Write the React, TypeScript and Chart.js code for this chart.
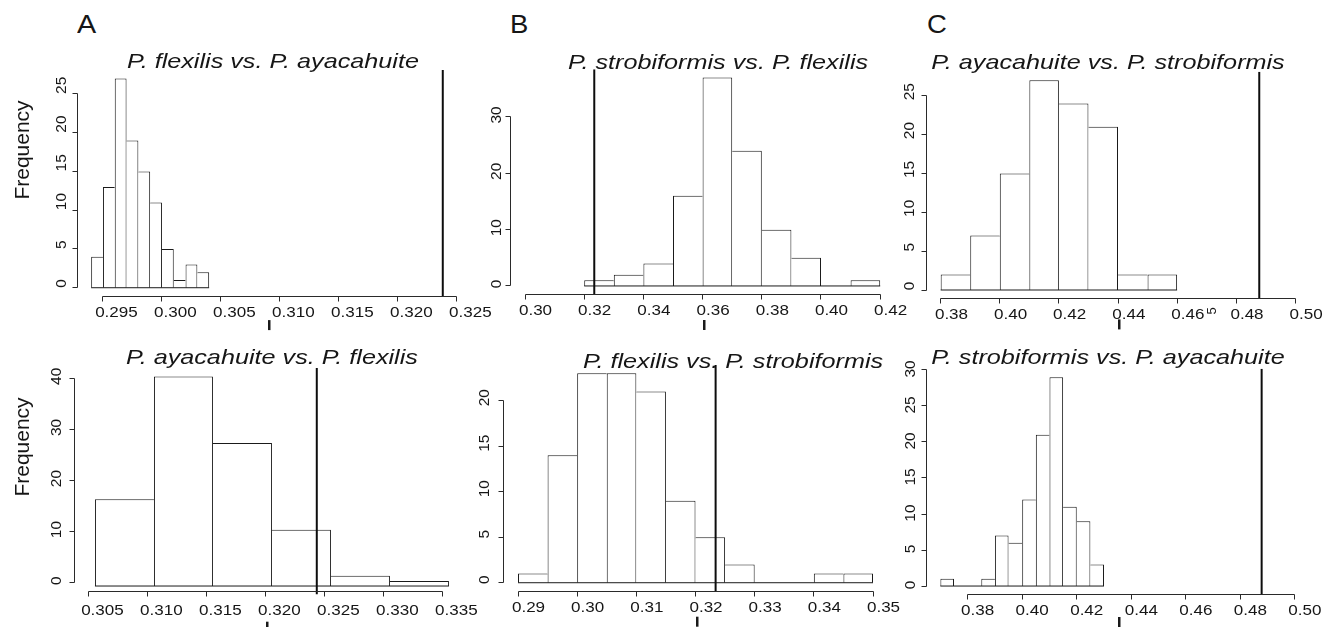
import React, { useEffect, useRef } from "react";
import { Chart, registerables } from "chart.js";

Chart.register(...registerables);

// ---------------- data ----------------
// bin edges and counts of the six permutation histograms
const aTopEdges = [0.294, 0.295, 0.296, 0.297, 0.298, 0.299, 0.3, 0.301, 0.302, 0.303, 0.304];
const aTopCounts = [4, 13, 27, 19, 15, 11, 5, 1, 3, 2];
const aBotEdges = [0.305, 0.31, 0.315, 0.32, 0.325, 0.33, 0.335];
const aBotCounts = [17, 41, 28, 11, 2, 1];
const bTopEdges = [0.32, 0.33, 0.34, 0.35, 0.36, 0.37, 0.38, 0.39, 0.4, 0.41, 0.42];
const bTopCounts = [1, 2, 4, 16, 37, 24, 10, 5, 0, 1];
const bBotEdges = [0.29, 0.295, 0.3, 0.305, 0.31, 0.315, 0.32, 0.325, 0.33, 0.335, 0.34, 0.345, 0.35];
const bBotCounts = [1, 14, 23, 23, 21, 9, 5, 2, 0, 0, 1, 1];
const cTopEdges = [0.38, 0.39, 0.4, 0.41, 0.42, 0.43, 0.44, 0.45, 0.46];
const cTopCounts = [2, 7, 15, 27, 24, 21, 2, 2];
const cBotEdges = [0.37, 0.375, 0.38, 0.385, 0.39, 0.395, 0.4, 0.405, 0.41, 0.415, 0.42, 0.425, 0.43];
const cBotCounts = [1, 0, 0, 1, 7, 6, 12, 21, 29, 11, 9, 3];

// observed values (vertical lines)
const observedA = 0.3238;
const observedB = 0.3234;
const observedC = 0.4878;

// x limits of each plot
const xlimATop = [0.294, 0.324];
const xlimABot = [0.305, 0.335];
const xlimBTop = [0.3, 0.42];
const xlimBBot = [0.29, 0.35];
const xlimCTop = [0.38, 0.5];
const xlimCBot = [0.37, 0.5];

// tick values
const xTicksATop = [0.295, 0.3, 0.305, 0.31, 0.315, 0.32, 0.325];
const xTicksABot = [0.305, 0.31, 0.315, 0.32, 0.325, 0.33, 0.335];
const xTicksBTop = [0.3, 0.32, 0.34, 0.36, 0.38, 0.4, 0.42];
const xTicksBBot = [0.29, 0.3, 0.31, 0.32, 0.33, 0.34, 0.35];
const xTicksCTop = [0.38, 0.4, 0.42, 0.44, 0.46, 0.48, 0.5];
const xTicksCBot = [0.38, 0.4, 0.42, 0.44, 0.46, 0.48, 0.5];
const yTicksATop = [0, 5, 10, 15, 20, 25];
const yTicksABot = [0, 10, 20, 30, 40];
const yTicksBTop = [0, 10, 20, 30];
const yTicksBBot = [0, 5, 10, 15, 20];
const yTicksCTop = [0, 5, 10, 15, 20, 25];
const yTicksCBot = [0, 5, 10, 15, 20, 25, 30];

// titles
const titleATop = "P. flexilis vs. P. ayacahuite";
const titleABot = "P. ayacahuite vs. P. flexilis";
const titleBTop = "P. strobiformis vs. P. flexilis";
const titleBBot = "P. flexilis vs. P. strobiformis";
const titleCTop = "P. ayacahuite vs. P. strobiformis";
const titleCBot = "P. strobiformis vs. P. ayacahuite";
const panelLetters = ["A", "B", "C"];
const yAxisTitle = "Frequency";

// ---------------- styles ----------------
const FONT = '"Liberation Sans", Arial, Helvetica, sans-serif';
const INK = "#161616";
const LINE = "#2a2a2a";
const BAR_LINE = "#1a1a1a";
const PAD = { l: 70, r: 50, t: 20, b: 42 };
const TICK = 5;
const XFS = 15.5;
const YFS = 15.5;

type PanelSpec = {
  key: string;
  edges: number[];
  counts: number[];
  observed: number;
  xlim: number[];
  xTicks: number[];
  yTicks: number[];
  decimals: number;
  plot: { l: number; t: number; r: number; b: number };
  dx: number;
  dy: number;
  xLabShift: number;
  yLabGap: number;
  yLabShift: number;
  yLabAlign: "center" | "start";
  stubTop: number;
};

const panels: PanelSpec[] = [
  {
    key: "aTop", edges: aTopEdges, counts: aTopCounts, observed: observedA, xlim: xlimATop,
    xTicks: xTicksATop, yTicks: yTicksATop, decimals: 3,
    plot: { l: 77, t: 70.1, r: 459.3, b: 296.1 }, dx: 0, dy: 0,
    xLabShift: 13.5, yLabGap: 15.5, yLabShift: 0, yLabAlign: "start", stubTop: 24,
  },
  {
    key: "aBot", edges: aBotEdges, counts: aBotCounts, observed: observedA, xlim: xlimABot,
    xTicks: xTicksABot, yTicks: yTicksABot, decimals: 3,
    plot: { l: 80.8, t: 368.1, r: 463.1, b: 594.4 }, dx: -6, dy: -3.3,
    xLabShift: 13.5, yLabGap: 18, yLabShift: -2, yLabAlign: "center", stubTop: 27.3,
  },
  {
    key: "bTop", edges: bTopEdges, counts: bTopCounts, observed: observedB, xlim: xlimBTop,
    xTicks: xTicksBTop, yTicks: yTicksBTop, decimals: 2,
    plot: { l: 510.8, t: 69.2, r: 894.4, b: 294.3 }, dx: 0, dy: 0,
    xLabShift: 10.5, yLabGap: 14.5, yLabShift: -2, yLabAlign: "center", stubTop: 25.7,
  },
  {
    key: "bBot", edges: bBotEdges, counts: bBotCounts, observed: observedB, xlim: xlimBBot,
    xTicks: xTicksBBot, yTicks: yTicksBBot, decimals: 2,
    plot: { l: 503.8, t: 365.0, r: 887.2, b: 591.1 }, dx: 0, dy: 0,
    xLabShift: 10.5, yLabGap: 19, yLabShift: -3, yLabAlign: "center", stubTop: 25.6,
  },
  {
    key: "cTop", edges: cTopEdges, counts: cTopCounts, observed: observedC, xlim: xlimCTop,
    xTicks: xTicksCTop, yTicks: yTicksCTop, decimals: 2,
    plot: { l: 926.5, t: 71.8, r: 1309.5, b: 298.4 }, dx: 0, dy: 0,
    xLabShift: 10.8, yLabGap: 17, yLabShift: -4, yLabAlign: "center", stubTop: 21,
  },
  {
    key: "cBot", edges: cBotEdges, counts: cBotCounts, observed: observedC, xlim: xlimCBot,
    xTicks: xTicksCBot, yTicks: yTicksCBot, decimals: 2,
    plot: { l: 926.2, t: 368.8, r: 1309.1, b: 594.4 }, dx: 0, dy: 0,
    xLabShift: 10, yLabGap: 15, yLabShift: -1, yLabAlign: "center", stubTop: 22.6,
  },
];

const half = (v: number) => Math.round(v - 0.5) + 0.5;

function makeAxesPlugin(p: PanelSpec) {
  return {
    id: "rStyleAxes_" + p.key,
    afterDraw(chart: any) {
      const { ctx, chartArea: ca } = chart;
      const xs = chart.scales.x;
      const ys = chart.scales.y;
      const xPix = p.xTicks.map((v) => xs.getPixelForValue(v) + p.dx);
      const yPix = p.yTicks.map((v) => ys.getPixelForValue(v) + p.dy);
      const axY = half(ca.bottom + p.dy);
      const axX = half(ca.left + p.dx);
      ctx.save();
      ctx.strokeStyle = LINE;
      ctx.lineWidth = 1;
      ctx.beginPath();
      // x axis
      ctx.moveTo(half(xPix[0]), axY);
      ctx.lineTo(half(xPix[xPix.length - 1]), axY);
      xPix.forEach((px) => {
        ctx.moveTo(half(px), axY);
        ctx.lineTo(half(px), axY + TICK);
      });
      // y axis
      ctx.moveTo(axX, half(yPix[0]));
      ctx.lineTo(axX, half(yPix[yPix.length - 1]));
      yPix.forEach((py) => {
        ctx.moveTo(axX, half(py));
        ctx.lineTo(axX - TICK, half(py));
      });
      ctx.stroke();

      // x tick labels
      ctx.fillStyle = INK;
      ctx.font = `${XFS}px ${FONT}`;
      ctx.textAlign = "center";
      ctx.textBaseline = "alphabetic";
      p.xTicks.forEach((v, i) => {
        ctx.save();
        ctx.translate(xPix[i] + p.xLabShift, ca.bottom + 20.5);
        ctx.scale(1.1, 1);
        ctx.fillText(v.toFixed(p.decimals), 0, 0);
        ctx.restore();
      });

      // y tick labels (rotated, R style)
      ctx.font = `${YFS}px ${FONT}`;
      p.yTicks.forEach((v, i) => {
        ctx.save();
        ctx.translate(ca.left + p.dx - p.yLabGap, yPix[i] + p.yLabShift);
        ctx.rotate(-Math.PI / 2);
        ctx.textAlign = p.yLabAlign === "start" ? "left" : "center";
        ctx.textBaseline = "middle";
        ctx.fillText(String(v), 0, 0);
        ctx.restore();
      });

      // cut-off top of the x-axis title, centred under the plot
      ctx.fillStyle = "#1a1a1a";
      const cx = (ca.left + ca.right) / 2 + p.dx + 1;
      ctx.fillRect(Math.round(cx) - 1, ca.bottom + p.stubTop, 2.5, 10);
      ctx.restore();
    },
  };
}

function HistPanel({ p }: { p: PanelSpec }) {
  const ref = useRef<HTMLCanvasElement | null>(null);
  const cl = Math.floor(p.plot.l) - PAD.l;
  const ct = Math.floor(p.plot.t) - PAD.t;
  const cw = Math.ceil(p.plot.r) + PAD.r - cl;
  const ch = Math.ceil(p.plot.b) + PAD.b - ct;

  useEffect(() => {
    const canvas = ref.current;
    if (!canvas) return;
    const ymax = Math.max(...p.counts);
    const xr = p.xlim[1] - p.xlim[0];
    const usrX = [p.xlim[0] - 0.04 * xr, p.xlim[1] + 0.04 * xr];
    const usrY = [-0.04 * ymax, 1.04 * ymax];
    const centers = p.counts.map((_, i) => (p.edges[i] + p.edges[i + 1]) / 2);
    const counts = p.counts;

    const chart = new Chart(canvas, {
      type: "bar",
      data: {
        datasets: [
          {
            type: "line",
            data: [
              { x: p.observed, y: usrY[0] },
              { x: p.observed, y: usrY[1] },
            ],
            borderColor: "#0d0d0d",
            borderWidth: 2,
            pointRadius: 0,
            order: 0,
          } as any,
          {
            type: "line",
            data: [
              { x: p.edges[0], y: 0 },
              { x: p.edges[p.edges.length - 1], y: 0 },
            ],
            borderColor: BAR_LINE,
            borderWidth: 1,
            pointRadius: 0,
            order: 1,
          } as any,
          {
            type: "bar",
            data: centers.map((c, i) => ({ x: c, y: counts[i] })),
            backgroundColor: "#ffffff",
            borderColor: BAR_LINE,
            borderWidth: (c: any) => {
              const i = c.dataIndex;
              if (i === undefined) return 1;
              const prev = i > 0 ? counts[i - 1] : 0;
              const next = i < counts.length - 1 ? counts[i + 1] : 0;
              return {
                top: 1,
                bottom: 0,
                left: counts[i] >= prev ? 1 : 0,
                right: counts[i] > next ? 1 : 0,
              };
            },
            borderSkipped: false,
            barThickness: "flex",
            barPercentage: 1,
            categoryPercentage: 1,
            inflateAmount: 0,
            order: 2,
          } as any,
        ],
      },
      options: {
        animation: false,
        responsive: false,
        devicePixelRatio: 1,
        events: [],
        layout: {
          padding: {
            left: p.plot.l - cl,
            top: p.plot.t - ct,
            right: cl + cw - p.plot.r,
            bottom: ct + ch - p.plot.b,
          },
        },
        plugins: {
          legend: { display: false },
          tooltip: { enabled: false },
          title: { display: false },
        },
        scales: {
          x: {
            type: "linear",
            display: false,
            offset: false,
            min: usrX[0],
            max: usrX[1],
            afterBuildTicks: (s: any) => {
              s.ticks = p.xTicks.map((v) => ({ value: v }));
            },
          },
          y: {
            type: "linear",
            display: false,
            min: usrY[0],
            max: usrY[1],
            afterBuildTicks: (s: any) => {
              s.ticks = p.yTicks.map((v) => ({ value: v }));
            },
          },
        },
      } as any,
      plugins: [makeAxesPlugin(p)],
    });
    return () => chart.destroy();
  }, [p]);

  return (
    <canvas
      ref={ref}
      width={cw}
      height={ch}
      style={{ position: "absolute", left: cl, top: ct, width: cw, height: ch }}
    />
  );
}

function TextAt(props: {
  text: string;
  x: number;
  baseline: number;
  size: number;
  italic?: boolean;
  scaleX?: number;
  anchor?: "center" | "left";
}) {
  const { text, x, baseline, size, italic, scaleX = 1, anchor = "center" } = props;
  const style: React.CSSProperties = {
    position: "absolute",
    left: x,
    top: baseline - 0.8465 * size,
    fontFamily: FONT,
    fontSize: size,
    lineHeight: `${size}px`,
    fontStyle: italic ? "italic" : "normal",
    color: INK,
    whiteSpace: "nowrap",
    transform:
      anchor === "center" ? `translateX(-50%) scaleX(${scaleX})` : `scaleX(${scaleX})`,
    transformOrigin: anchor === "center" ? "50% 50%" : "0 0",
  };
  return <div style={style}>{text}</div>;
}

function RotatedText(props: { text: string; cx: number; cy: number; size: number }) {
  const { text, cx, cy, size } = props;
  return (
    <div
      style={{
        position: "absolute",
        left: cx,
        top: cy,
        fontFamily: FONT,
        fontSize: size,
        lineHeight: `${size}px`,
        color: INK,
        whiteSpace: "nowrap",
        transform: "translate(-50%, -50%) rotate(-90deg)",
      }}
    >
      {text}
    </div>
  );
}

export default function App() {
  return (
    <div
      style={{
        position: "absolute",
        left: 0,
        top: 0,
        width: 1335,
        height: 627,
        background: "#ffffff",
        overflow: "hidden",
      }}
    >
      {panels.map((p) => (
        <HistPanel key={p.key} p={p} />
      ))}

      <TextAt text={panelLetters[0]} x={77} baseline={33} size={25} scaleX={1.15} anchor="left" />
      <TextAt text={panelLetters[1]} x={510} baseline={33} size={25} scaleX={1.1} anchor="left" />
      <TextAt text={panelLetters[2]} x={926.5} baseline={33} size={25} scaleX={1.1} anchor="left" />

      <TextAt text={titleATop} x={272.5} baseline={68} size={21} italic scaleX={1.2} />
      <TextAt text={titleBTop} x={717.5} baseline={68.3} size={21} italic scaleX={1.2} />
      <TextAt text={titleCTop} x={1108.3} baseline={69} size={21} italic scaleX={1.2} />
      <TextAt text={titleABot} x={272.2} baseline={363.3} size={21} italic scaleX={1.2} />
      <TextAt text={titleBBot} x={732.5} baseline={367.7} size={21} italic scaleX={1.2} />
      <TextAt text={titleCBot} x={1108.3} baseline={363.3} size={21} italic scaleX={1.2} />

      <RotatedText text={yAxisTitle} cx={20.5} cy={150} size={21} />
      <RotatedText text={yAxisTitle} cx={20.5} cy={446.7} size={21} />

      <div
        style={{
          position: "absolute",
          left: 1204,
          top: 306,
          width: 13,
          height: 8,
          overflow: "hidden",
        }}
      >
        <RotatedText text="5" cx={6.5} cy={5} size={13} />
      </div>
    </div>
  );
}
